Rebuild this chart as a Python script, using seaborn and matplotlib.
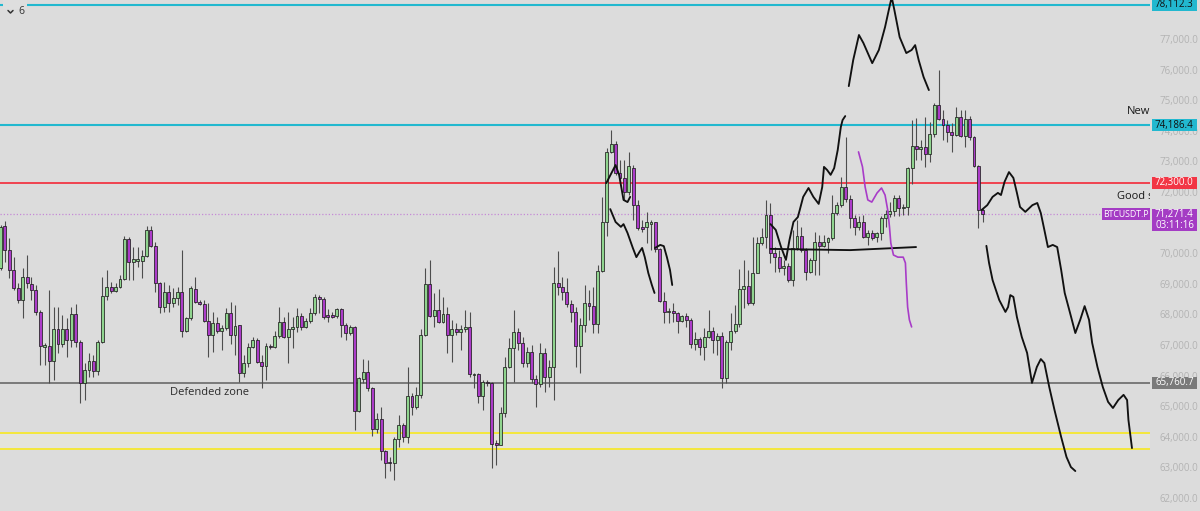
import numpy as np
import pandas as pd
import matplotlib
matplotlib.use("Agg")
import matplotlib.pyplot as plt
import matplotlib.transforms as mtransforms
from matplotlib.patches import Rectangle
from matplotlib.lines import Line2D
from matplotlib.ticker import FuncFormatter
import seaborn as sns

# ---------------- data (prices in thousands of USDT) ----------------
opens = [
    69.52, 70.89, 70.10, 69.45, 68.86, 68.47, 69.22, 68.99, 68.80, 68.08,
    66.94, 66.97, 66.48, 67.52, 67.03, 67.52, 67.16, 68.01, 67.10, 65.76,
    66.18, 66.48, 66.15, 67.10, 68.60, 68.89, 68.76, 68.89, 69.16, 70.46,
    69.71, 69.74, 69.74, 69.91, 70.76, 70.24, 69.03, 68.24, 68.73, 68.37,
    68.54, 68.73, 67.46, 67.88, 68.83, 68.41, 68.34, 67.78, 67.33, 67.72,
    67.46, 67.56, 68.05, 67.33, 67.65, 66.08, 66.41, 66.94, 67.16, 66.44,
    66.31, 66.97, 66.94, 67.29, 67.75, 67.26, 67.52, 67.59, 67.95, 67.59,
    67.78, 68.05, 68.57, 68.50, 67.98, 67.97, 67.95, 68.18, 67.65, 67.39,
    67.59, 64.84, 65.89, 66.12, 65.59, 64.25, 64.58, 63.54, 63.18, 63.14,
    63.93, 64.39, 63.99, 65.33, 64.97, 65.37, 67.33, 68.99, 67.95, 68.14,
    67.75, 68.01, 67.33, 67.52, 67.42, 67.52, 67.59, 66.02, 66.05, 65.33,
    65.79, 65.76, 63.80, 63.73, 64.78, 66.28, 66.90, 67.42, 67.07, 66.41,
    66.77, 65.89, 65.73, 66.74, 65.95, 66.28, 69.03, 68.89, 68.73, 68.34,
    68.08, 66.97, 67.65, 68.37, 68.27, 67.69, 69.42, 71.02, 73.31, 73.57,
    72.62, 72.46, 72.00, 72.78, 71.58, 70.86, 70.86, 70.95, 71.02, 70.14,
    68.44, 68.08, 68.11, 68.05, 67.78, 67.95, 67.82, 67.03, 67.20, 66.94,
    67.26, 67.46, 67.16, 67.29, 65.92, 67.10, 67.46, 67.69, 68.83, 68.93,
    68.37, 69.35, 70.33, 70.53, 71.25, 70.01, 69.88, 69.52, 69.58, 69.12,
    70.17, 70.56, 70.10, 69.39, 69.78, 70.37, 70.24, 70.37, 70.50, 71.31,
    71.58, 72.16, 71.77, 71.15, 70.86, 71.02, 70.53, 70.66, 70.53, 70.66,
    71.15, 71.28, 71.38, 71.80, 71.48, 71.51, 72.78, 73.50, 73.40, 73.47,
    73.24, 73.90, 74.84, 74.39, 74.19, 73.96, 73.86, 74.45, 73.83, 74.39,
    73.80, 72.85, 71.41,
]
highs = [
    70.92, 71.05, 70.50, 69.88, 69.03, 69.52, 69.94, 69.22, 68.96, 68.14,
    67.07, 68.80, 68.24, 68.24, 67.98, 67.88, 68.24, 68.34, 67.16, 66.41,
    66.74, 66.67, 67.16, 69.22, 69.45, 69.06, 69.03, 69.29, 70.56, 70.53,
    70.20, 70.20, 70.10, 70.89, 70.89, 70.37, 69.06, 69.06, 68.96, 68.86,
    68.89, 70.10, 67.91, 68.93, 69.22, 68.47, 68.47, 68.37, 68.08, 67.91,
    67.65, 68.21, 68.41, 68.30, 67.65, 66.67, 67.07, 67.26, 67.23, 66.67,
    67.07, 67.03, 67.46, 68.24, 67.91, 68.08, 67.91, 68.21, 68.05, 67.88,
    68.21, 68.67, 68.63, 68.57, 68.18, 68.08, 68.21, 68.21, 67.72, 67.65,
    67.62, 65.95, 66.54, 66.51, 65.63, 64.78, 64.97, 63.57, 63.34, 63.99,
    64.71, 64.45, 66.28, 65.43, 65.63, 67.52, 69.52, 69.78, 68.70, 68.83,
    68.57, 68.24, 67.82, 67.72, 67.65, 68.14, 68.08, 66.08, 66.08, 65.86,
    65.86, 65.79, 63.90, 64.97, 66.61, 67.23, 68.14, 67.56, 67.26, 66.93,
    67.00, 66.02, 67.07, 66.90, 66.51, 69.55, 70.07, 69.22, 69.19, 68.47,
    68.24, 67.88, 68.96, 68.80, 68.89, 69.61, 71.84, 73.44, 74.03, 73.67,
    73.05, 73.05, 73.31, 72.88, 71.74, 71.08, 71.35, 71.08, 71.02, 70.17,
    68.73, 68.21, 68.37, 68.08, 67.98, 68.05, 67.88, 67.42, 67.26, 67.56,
    68.14, 67.59, 67.39, 67.42, 67.16, 68.05, 68.30, 69.48, 69.78, 69.45,
    70.53, 70.53, 70.82, 71.74, 71.64, 70.20, 70.10, 69.78, 69.68, 70.76,
    71.08, 70.86, 70.17, 69.84, 70.69, 70.59, 70.59, 70.53, 71.90, 71.67,
    72.49, 73.80, 71.90, 71.25, 71.22, 71.25, 70.76, 70.76, 70.69, 71.22,
    71.41, 71.67, 71.90, 71.90, 71.61, 72.82, 74.35, 74.42, 73.70, 74.45,
    74.29, 74.91, 75.99, 74.68, 74.35, 74.26, 74.78, 74.68, 74.68, 74.48,
    73.83, 72.88, 71.48,
]
lows = [
    69.45, 69.71, 69.19, 68.80, 68.37, 67.88, 68.86, 68.47, 67.98, 66.35,
    66.35, 65.76, 65.86, 66.74, 66.94, 66.61, 66.94, 66.94, 65.10, 65.20,
    65.95, 65.95, 66.02, 67.07, 68.47, 68.70, 68.73, 68.86, 69.12, 69.12,
    69.12, 69.55, 69.19, 69.88, 70.20, 68.73, 68.05, 68.08, 68.08, 68.24,
    68.30, 67.26, 67.42, 67.82, 68.37, 68.30, 67.75, 66.61, 66.77, 67.39,
    66.84, 67.49, 67.03, 66.67, 65.79, 65.95, 66.28, 66.90, 66.41, 65.59,
    65.86, 66.87, 66.90, 67.23, 67.23, 66.41, 66.90, 67.42, 67.49, 67.56,
    67.72, 67.98, 68.05, 67.85, 67.75, 67.88, 67.88, 67.26, 67.16, 67.33,
    64.22, 64.81, 65.76, 65.50, 64.03, 64.12, 63.24, 62.65, 62.88, 62.59,
    63.67, 63.83, 63.80, 64.71, 64.91, 65.27, 67.29, 67.91, 67.59, 67.72,
    67.72, 66.74, 66.44, 67.33, 66.84, 67.42, 65.95, 65.59, 65.10, 64.88,
    65.66, 62.98, 63.08, 63.73, 64.65, 66.25, 65.79, 66.84, 66.28, 66.28,
    65.76, 64.97, 65.63, 65.46, 65.63, 65.20, 68.63, 68.47, 68.24, 67.75,
    66.28, 66.08, 67.42, 67.82, 67.39, 67.39, 69.39, 70.56, 73.27, 72.55,
    72.29, 71.74, 71.90, 71.08, 70.76, 70.69, 70.33, 70.10, 70.04, 68.41,
    67.72, 67.72, 67.75, 67.39, 67.75, 67.59, 66.90, 66.84, 66.67, 66.51,
    67.23, 66.74, 66.67, 65.59, 65.76, 66.84, 67.39, 67.59, 68.21, 68.30,
    68.30, 69.35, 70.27, 70.17, 69.68, 69.39, 69.39, 69.29, 69.06, 68.93,
    70.10, 70.04, 69.12, 69.35, 69.29, 69.29, 70.20, 70.01, 70.43, 71.25,
    71.51, 71.67, 70.82, 70.60, 70.76, 70.50, 70.27, 70.43, 70.37, 70.43,
    70.86, 71.18, 71.22, 71.22, 71.25, 71.25, 72.26, 73.05, 73.05, 72.82,
    72.98, 73.80, 74.35, 73.70, 73.63, 73.31, 73.83, 73.80, 73.47, 73.70,
    72.82, 70.82, 71.01,
]
closes = [
    70.86, 70.10, 69.45, 68.86, 68.47, 69.22, 69.03, 68.80, 68.08, 66.97,
    67.00, 66.48, 67.52, 67.03, 67.52, 67.16, 68.01, 67.10, 65.76, 66.18,
    66.48, 66.15, 67.10, 68.60, 68.89, 68.76, 68.89, 69.16, 70.46, 69.71,
    69.81, 69.82, 69.91, 70.76, 70.24, 69.03, 68.24, 68.73, 68.37, 68.54,
    68.73, 67.46, 67.88, 68.86, 68.41, 68.34, 67.78, 67.33, 67.72, 67.46,
    67.56, 68.05, 67.33, 67.62, 66.08, 66.41, 66.94, 67.16, 66.44, 66.31,
    66.97, 66.94, 67.29, 67.75, 67.26, 67.52, 67.59, 67.95, 67.59, 67.78,
    68.05, 68.57, 68.50, 67.91, 67.91, 67.92, 68.18, 67.65, 67.39, 67.59,
    64.84, 65.92, 66.12, 65.59, 64.25, 64.58, 63.54, 63.14, 63.14, 63.93,
    64.39, 63.99, 65.33, 64.97, 65.37, 67.33, 68.99, 67.95, 68.14, 67.75,
    68.01, 67.33, 67.52, 67.42, 67.52, 67.59, 66.05, 66.05, 65.33, 65.79,
    65.76, 63.76, 63.73, 64.78, 66.28, 66.90, 67.42, 67.07, 66.41, 66.77,
    65.89, 65.73, 66.74, 65.95, 66.28, 69.03, 68.89, 68.73, 68.34, 68.08,
    66.97, 67.65, 68.37, 68.27, 67.69, 69.42, 71.02, 73.31, 73.57, 72.62,
    72.46, 72.00, 72.85, 71.58, 70.82, 70.79, 71.02, 71.02, 70.14, 68.44,
    68.08, 68.11, 68.05, 67.78, 67.95, 67.82, 67.03, 67.20, 66.94, 67.26,
    67.46, 67.16, 67.29, 65.92, 67.10, 67.46, 67.69, 68.83, 68.93, 68.37,
    69.35, 70.33, 70.53, 71.25, 70.01, 69.88, 69.52, 69.58, 69.12, 70.17,
    70.56, 70.10, 69.39, 69.78, 70.37, 70.24, 70.37, 70.50, 71.31, 71.58,
    72.16, 71.77, 71.15, 70.86, 71.02, 70.53, 70.66, 70.50, 70.66, 71.15,
    71.28, 71.38, 71.80, 71.48, 71.51, 72.78, 73.50, 73.40, 73.47, 73.24,
    73.90, 74.84, 74.39, 74.19, 73.96, 73.86, 74.45, 73.83, 74.39, 73.80,
    72.85, 71.41, 71.27,
]

# horizontal levels
level_top = 78112.3
level_new = 74186.4
level_red = 72300.0
level_last = 71271.4
level_gray = 65760.7
zone_hi = 64120.0
zone_lo = 63600.0
# scale labels that are not hidden behind a price box
price_ticks = [62000, 63000, 64000, 65000, 66000, 67000, 68000, 69000, 70000,
               72000, 73000, 74000, 75000, 76000, 77000]

# hand drawn paths (bar index, price in thousands)
draw1_x = [191.7, 192.7, 194.0, 195.0, 197.0, 198.5, 199.9, 200.9, 201.4, 202.0, 203.2, 204.7, 205.9, 206.7, 207.5, 208.6, 209.8]
draw1_y = [75.46, 76.31, 77.13, 76.87, 76.21, 76.64, 77.39, 78.05, 78.37, 77.95, 77.06, 76.54, 76.64, 76.80, 76.31, 75.76, 75.33]
draw2_x = [174.0, 175.2, 176.4, 177.5, 178.3, 179.2, 180.2, 181.4, 182.6, 183.7, 184.9, 185.7, 186.1, 186.8, 187.6, 188.4, 189.2, 189.9, 190.3, 190.9]
draw2_y = [70.95, 70.76, 70.20, 69.78, 70.43, 71.02, 71.18, 71.84, 72.13, 71.84, 71.61, 72.16, 72.82, 72.72, 72.56, 72.78, 73.37, 74.12, 74.35, 74.48]
draw3_x = [174.0, 192.0, 206.9]
draw3_y = [70.14, 70.10, 70.20]
draw4_x = [136.9, 139.0, 139.8, 140.8, 141.7, 142.3]
draw4_y = [72.29, 72.88, 72.56, 71.74, 71.67, 71.84]
draw5_x = [137.8, 139.0, 140.2, 140.8, 141.7, 142.9, 143.7, 144.4, 145.0, 145.6, 146.4, 147.2, 147.8]
draw5_y = [71.44, 71.02, 70.86, 70.95, 70.66, 70.17, 69.87, 70.04, 70.17, 69.87, 69.35, 68.96, 68.70]
draw6_x = [147.9, 149.1, 149.9, 150.6, 151.3, 151.8]
draw6_y = [70.17, 70.27, 70.23, 69.87, 69.45, 68.96]
draw7_x = [221.7, 223.0, 224.2, 225.4, 226.1, 226.9, 227.9, 228.9, 229.7, 230.4, 231.6, 233.2, 234.3, 235.1, 235.9, 236.7, 237.8, 238.8, 239.7, 240.5,
           241.7, 242.9, 244.0, 245.0, 246.0, 246.7, 247.9, 249.1, 250.3, 251.4, 252.6, 253.8, 254.6, 254.9, 255.7]
draw7_y = [71.41, 71.57, 71.84, 71.97, 71.90, 72.33, 72.65, 72.46, 71.97, 71.51, 71.35, 71.57, 71.64, 71.31, 70.76, 70.20, 70.27, 70.20, 69.45, 68.70,
           68.05, 67.39, 67.82, 68.27, 67.82, 67.07, 66.28, 65.63, 65.14, 64.94, 65.20, 65.37, 65.20, 64.55, 63.63]
draw8_x = [222.8, 223.4, 224.2, 225.7, 227.1, 227.7, 228.2, 228.9, 229.7, 230.8, 232.0, 233.1, 234.2, 235.1, 235.9, 237.0, 238.2, 239.7, 240.9, 241.9, 242.9]
draw8_y = [70.24, 69.68, 69.12, 68.47, 68.08, 68.24, 68.63, 68.57, 67.91, 67.26, 66.74, 65.76, 66.28, 66.54, 66.41, 65.63, 64.87, 63.99, 63.34, 63.01, 62.88]
purple_x = [193.9, 194.8, 195.4, 196.0, 196.9, 198.1, 199.1, 199.9, 200.5, 200.9, 201.2, 201.8, 202.8, 204.0, 204.5, 204.7, 205.0, 205.4, 205.9]
purple_y = [73.31, 72.82, 72.16, 71.74, 71.67, 71.97, 72.13, 71.90, 71.41, 70.86, 70.33, 69.94, 69.87, 69.87, 69.68, 69.03, 68.24, 67.82, 67.59]

# ---------------- style ----------------
sns.set_theme(style="white")
plt.rcParams['font.family'] = ['Open Sans', 'DejaVu Sans']

BG = '#dcdcdc'
GREEN = '#8fd48e'
PURPLE = '#ac3cc9'
CYAN = '#22b8cf'
RED = '#f23645'
GRAY = '#7a7a7a'
YELLOW = '#f4e83a'

W, H = 1200, 511
fig = plt.figure(figsize=(W / 100, H / 100), dpi=100, facecolor=BG)
ax = fig.add_axes([0, 0, 1150 / W, 1])
ax.set_facecolor(BG)

df = pd.DataFrame({
    'open': np.array(opens) * 1000,
    'high': np.array(highs) * 1000,
    'low': np.array(lows) * 1000,
    'close': np.array(closes) * 1000,
})
df['idx'] = np.arange(len(df))
up = df['close'] >= df['open']

# zone + levels
ax.axhspan(zone_lo, zone_hi, color='#e4e4dd', zorder=0.5, lw=0)
for lv, col, lw in [(level_top, CYAN, 1.5), (level_new, CYAN, 1.5), (level_red, RED, 1.3),
                    (level_gray, GRAY, 1.4), (zone_hi, YELLOW, 1.4), (zone_lo, YELLOW, 1.4)]:
    ax.axhline(lv, color=col, lw=lw, zorder=1)
ax.axhline(level_last, color='#c58ad6', lw=0.9, ls=(0, (1, 1.6)), zorder=1)

# candles
ax.vlines(df['idx'], df['low'], df['high'], color='#4d4d4d', lw=0.8, zorder=3)
bottom = np.minimum(df['open'], df['close'])
height = np.maximum(np.abs(df['close'] - df['open']), 25)
ax.bar(df['idx'], height, bottom=bottom, width=0.66,
       color=np.where(up, GREEN, PURPLE), edgecolor='#1f1f1f', linewidth=0.55, zorder=4)

# hand-drawn lines
for xs, ys in [(draw1_x, draw1_y), (draw2_x, draw2_y), (draw3_x, draw3_y), (draw4_x, draw4_y),
               (draw5_x, draw5_y), (draw6_x, draw6_y), (draw7_x, draw7_y), (draw8_x, draw8_y)]:
    sns.lineplot(x=xs, y=np.array(ys) * 1000, sort=False, estimator=None, color='#111111',
                 lw=1.35, ax=ax, zorder=5, solid_joinstyle='round', solid_capstyle='round')
sns.lineplot(x=purple_x, y=np.array(purple_y) * 1000, sort=False, estimator=None, color='#a83cc8',
             lw=1.2, ax=ax, zorder=5, solid_joinstyle='round')

# axes limits (px = 0.5 + 4.425 * index)
ax.set_xlim(-0.5 / 4.425, (1150 - 0.5) / 4.425)
ax.set_ylim(61574, 78274)
ax.set_xlabel('')
ax.set_ylabel('')
ax.xaxis.set_visible(False)
for s in ax.spines.values():
    s.set_visible(False)
ax.yaxis.tick_right()
ax.set_yticks(price_ticks)
ax.yaxis.set_major_formatter(FuncFormatter(lambda v, _: f"{v:,.1f}"))
ax.tick_params(axis='y', length=0, pad=7, labelsize=7, labelcolor='#b3b3b3')
ax.grid(False)

# price boxes on the right scale
bt = mtransforms.blended_transform_factory(fig.transFigure, ax.transData)
px = 32.68  # price per pixel


def price_box(val, face, tcolor, text):
    h = 12 * px
    ax.add_patch(Rectangle((1152 / W, val - h / 2), 45 / W, h, transform=bt, facecolor=face,
                           edgecolor='none', clip_on=False, zorder=20))
    ax.text(1155 / W, val, text, transform=bt, color=tcolor, fontsize=7, va='center', ha='left',
            clip_on=False, zorder=21)


price_box(level_top, CYAN, '#111111', f"{level_top:,.1f}")
price_box(level_new, CYAN, '#111111', f"{level_new:,.1f}")
price_box(level_red, RED, 'white', f"{level_red:,.1f}")
price_box(level_gray, GRAY, 'white', f"{level_gray:,.1f}")

# current price box (two lines)
ax.add_patch(Rectangle((1152 / W, level_last - 17 * px), 45 / W, 22 * px, transform=bt,
                       facecolor='#a43cc4', edgecolor='none', clip_on=False, zorder=20))
ax.text(1155 / W, level_last, f"{level_last:,.1f}", transform=bt, color='white', fontsize=7,
        va='center', ha='left', clip_on=False, zorder=21)
ax.text(1155 / W, level_last - 11.5 * px, "03:11:16", transform=bt, color='white', fontsize=7,
        va='center', ha='left', clip_on=False, zorder=21)
ax.add_patch(Rectangle((1102 / W, level_last - 6 * px), 48 / W, 12 * px, transform=bt,
                       facecolor='#a43cc4', edgecolor='none', clip_on=False, zorder=20))
ax.text(1126 / W, level_last, "BTCUSDT.P", transform=bt, color='white', fontsize=6.3,
        va='center', ha='center', clip_on=False, zorder=21)

# annotations
at = mtransforms.blended_transform_factory(ax.transAxes, ax.transData)
ax.text(170 / 1150, 65431, "Defended zone", transform=at, fontsize=8, color='#2b2b2b',
        va='center', ha='left', zorder=6)
ax.text(1127 / 1150, 74614, "New", transform=at, fontsize=8, color='#1a1a1a',
        va='center', ha='left', zorder=6, clip_on=True)
ax.text(1117 / 1150, 71837, "Good support", transform=at, fontsize=8, color='#1a1a1a',
        va='center', ha='left', zorder=6, clip_on=True)

# top-left control (chevron + interval)
fig.patches.append(Rectangle((3 / W, 1 - 9 / H), 24 / W, 9 / H, transform=fig.transFigure,
                             facecolor='#dedede', edgecolor='none', zorder=30))
fig.lines.append(Line2D([8 / W, 10.5 / W, 13 / W], [1 - 10.5 / H, 1 - 13 / H, 1 - 10.5 / H],
                        transform=fig.transFigure, color='#333333', lw=1.1, zorder=40))
fig.text(18 / W, 1 - 12 / H, "6", fontsize=7.5, color='#333333', va='center', ha='left', zorder=40)

fig.savefig("out.png", dpi=100, facecolor=BG)
